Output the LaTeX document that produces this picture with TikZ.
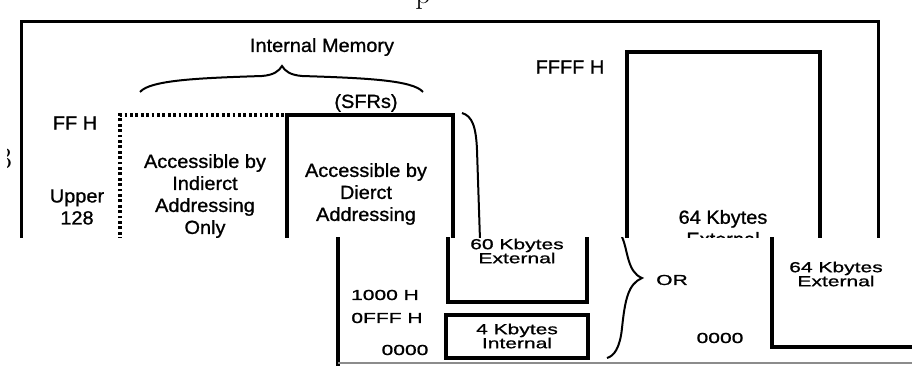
\documentclass[tikz,border=0pt]{standalone}
\usepackage{fontspec}
\newfontfamily\topf[FakeStretch=1.05,FakeBold=1]{Liberation Sans}
\newfontfamily\botf[FakeStretch=1.45,FakeBold=1]{Liberation Sans}
\begin{document}
\begin{tikzpicture}[x=1pt,y=-1pt,
  tl/.style={font=\topf\fontsize{19}{22}\selectfont, align=center, inner sep=0pt},
  bl/.style={font=\botf\fontsize{14.5}{14}\selectfont, align=center, inner sep=0pt},
  serif/.style={inner sep=0pt, anchor=base},
  thickline/.style={line width=3.6pt},
  frameline/.style={line width=3pt},
  dotline/.style={line width=3.2pt, dash pattern=on 2.8pt off 2.6pt},
  curveline/.style={line width=2pt},
  faintline/.style={line width=1.4pt, draw=black!45}]
\useasboundingbox (0,0) rectangle (912,366);
% ---------------- upper picture ----------------
\begin{scope}
\clip (0,0) rectangle (912,237);
\node[serif, font=\fontsize{30}{30}\selectfont] (p) at (423,4) {p};
\begin{scope}
\clip (7,140) rectangle (20,175);
\node[serif, font=\fontsize{30}{30}\selectfont] (three) at (5,168) {3};
\end{scope}
% outer frame
\coordinate (fTL) at (21,22);
\coordinate (fTR) at (878,22);
\coordinate (fBL) at (21,240);
\coordinate (fBR) at (878,240);
\draw[frameline] (fBL) -- (fTL) -- (fTR) -- (fBR);
% brace over internal memory
\node[tl] (intmem) at (322,47) {Internal Memory};
\coordinate (brL) at (140,92);
\coordinate (brM) at (282,66);
\coordinate (brR) at (423,92);
\draw[curveline] (brL) .. controls (150,80) and (200,78) .. (262,76)
  .. controls (274,75) and (279,71) .. (brM)
  .. controls (285,71) and (290,75) .. (302,76)
  .. controls (364,78) and (413,80) .. (brR);
% dotted upper-128 box
\coordinate (dTL) at (120,115);
\coordinate (dTR) at (287,115);
\coordinate (dBL) at (120,240);
\draw[dotline] (dBL) -- (dTL) -- (dTR);
% SFR box
\coordinate (sBL) at (287,240);
\coordinate (sTL) at (287,115);
\coordinate (sTR) at (453,115);
\coordinate (sBR) at (453,240);
\draw[thickline] (sBL) -- (sTL) -- (sTR) -- (sBR);
\node[tl] (sfrs) at (366,103) {(SFRs)};
\node[tl] (ffh) at (75,123) {FF H};
\node[tl] (upper) at (77,207) {Upper\\128};
\node[tl] (indirect) at (205,196) {Accessible by\\Indierct\\Addressing\\Only};
\node[tl] (direct) at (366,194) {Accessible by\\Dierct\\Addressing};
% curve right of SFR box
\coordinate (cT) at (462,113);
\coordinate (cB) at (480,240);
\draw[curveline] (cT) .. controls (472,116) and (476,126) .. (477,150) -- (cB);
% 64K external box
\coordinate (eBL) at (627,240);
\coordinate (eTL) at (627,52);
\coordinate (eTR) at (820,52);
\coordinate (eBR) at (820,240);
\draw[thickline] (eBL) -- (eTL) -- (eTR) -- (eBR);
\node[tl] (ffffh) at (570,67) {FFFF H};
\node[tl] (ext64a) at (723,228) {64 Kbytes\\External};
\end{scope}
% ---------------- lower picture ----------------
\begin{scope}
\clip (335,237) rectangle (912,366);
\coordinate (lT) at (338,237);
\coordinate (lB) at (338,366);
\draw[thickline] (lT) -- (lB);
\coordinate (gL) at (338,363);
\coordinate (gR) at (912,363);
\draw[faintline] (gL) -- (gR);
% 60K box
\coordinate (aTL) at (448,235);
\coordinate (aBL) at (448,302);
\coordinate (aBR) at (587,302);
\coordinate (aTR) at (587,235);
\draw[thickline] (aTL) -- (aBL) -- (aBR) -- (aTR);
\node[bl] (ext60) at (517,251) {60 Kbytes\\External};
% 4K box
\coordinate (iTL) at (446,315);
\coordinate (iBR) at (588,358);
\draw[thickline] (iTL) rectangle (iBR);
\node[bl] (int4) at (517,336) {4 Kbytes\\Internal};
\node[bl] (h1000) at (385,295) {1000 H};
\node[bl] (h0fff) at (387,318) {0FFF H};
\node[bl] (zeroA) at (405,350) {0000};
% brace
\coordinate (bT) at (622,237);
\coordinate (bTip) at (642,278);
\coordinate (bB) at (607,358);
\draw[curveline] (bT) .. controls (628,250) and (627,272) .. (bTip)
  .. controls (628,284) and (625,300) .. (622,328)
  .. controls (620,348) and (614,356) .. (bB);
\node[bl] (orlbl) at (672,280) {OR};
% 64K external box (alternative)
\coordinate (xTL) at (772,235);
\coordinate (xBL) at (772,347);
\coordinate (xBR) at (915,347);
\draw[thickline] (xTL) -- (xBL) -- (xBR);
\node[bl] (ext64b) at (836,274) {64 Kbytes\\External};
\node[bl] (zeroB) at (720,338) {0000};
\end{scope}
\end{tikzpicture}
\end{document}
